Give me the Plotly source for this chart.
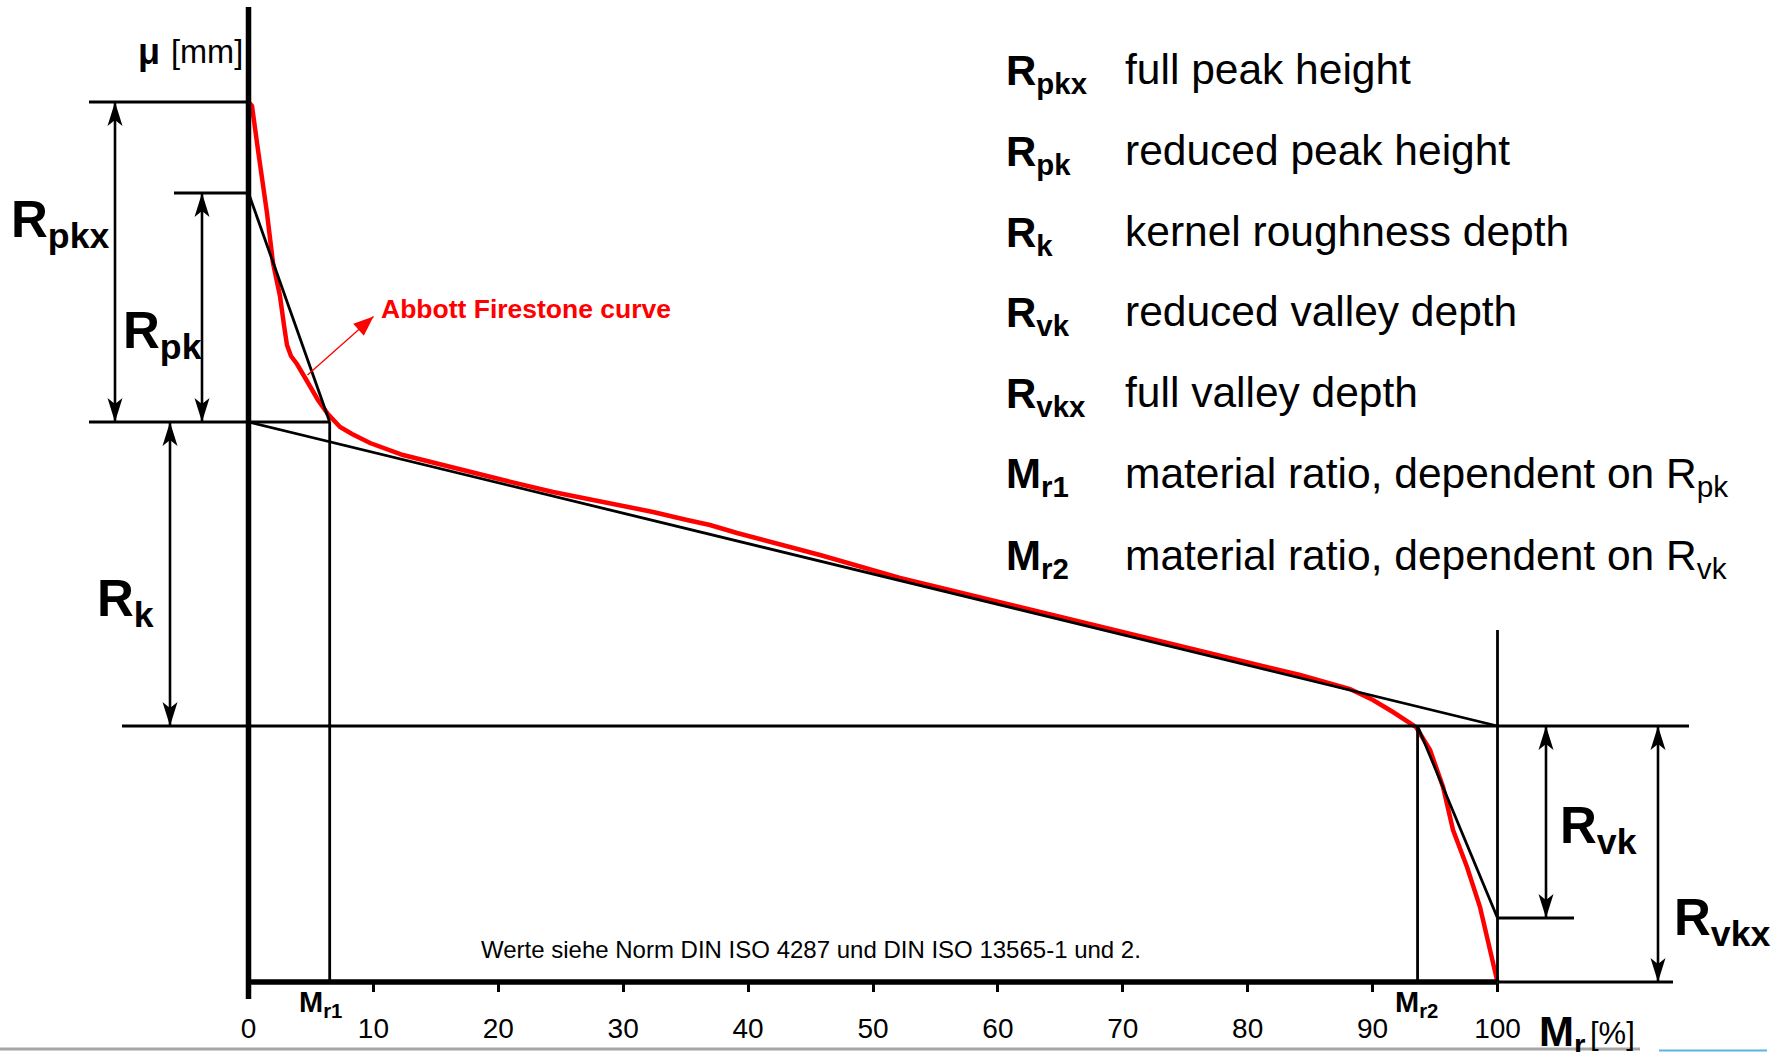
import math
import plotly.graph_objects as go

# ---------------- data ----------------
# Abbott-Firestone (material ratio) curve: material ratio Mr [%] vs. profile height
mr_pct = [0.0, 0.28, 0.76, 1.16, 1.48, 1.96, 2.52, 2.84, 3.08, 3.40, 3.88, 4.68, 5.56, 6.36,
          7.33, 8.29, 9.73, 12.37, 16.37, 20.38, 24.38, 28.38, 32.39, 35.11, 36.95, 39.11,
          41.75, 45.76, 52.16, 60.17, 68.17, 76.18, 84.19, 88.19, 90.03, 91.63, 92.76, 93.48,
          94.60, 95.64, 96.44, 97.56, 98.60, 99.24, 100.0]
profile_height = [88.0, 87.6, 83.2, 79.7, 76.9, 71.9, 68.6, 65.7, 63.7, 62.6, 61.8, 60.1, 58.2,
                  56.8, 55.5, 54.8, 53.9, 52.7, 51.4, 50.2, 49.0, 48.0, 47.0, 46.2, 45.7, 44.9,
                  44.0, 42.7, 40.4, 38.0, 35.5, 33.1, 30.7, 29.3, 28.2, 27.0, 26.0, 25.5, 23.2,
                  19.5, 15.2, 11.5, 7.5, 4.2, 0.0]

tick_values = [0, 10, 20, 30, 40, 50, 60, 70, 80, 90, 100]
tick_labels = ["0", "10", "20", "30", "40", "50", "60", "70", "80", "90", "100"]

# characteristic levels (heights) and material ratios
level_pkx = 88.0
level_pk = 78.9
level_k_top = 56.0
level_k_bot = 25.6
level_vk = 6.4
level_base = 0.0
mr1 = 6.5
mr2 = 93.6

legend_symbols = ["R<sub>pkx</sub>", "R<sub>pk</sub>", "R<sub>k</sub>", "R<sub>vk</sub>",
                  "R<sub>vkx</sub>", "M<sub>r1</sub>", "M<sub>r2</sub>"]
legend_texts = ["full peak height", "reduced peak height", "kernel roughness depth",
                "reduced valley depth", "full valley depth",
                "material ratio, dependent on R<sub>pk</sub>",
                "material ratio, dependent on R<sub>vk</sub>"]

# ---------------- layout geometry ----------------
W, H = 1786, 1052
X0_PX, PX_PER_X = 248.5, 12.49
Y0_PX, PX_PER_Y = 982.0, 10.0
FONT = "Liberation Sans, Arial, sans-serif"


def dx(px):
    return (px - X0_PX) / PX_PER_X


def dy(py):
    return (Y0_PX - py) / PX_PER_Y


def to_px(x, y):
    return X0_PX + x * PX_PER_X, Y0_PX - y * PX_PER_Y


x_range = [dx(0), dx(W)]
y_range = [dy(H), dy(0)]

fig = go.Figure()

# red Abbott-Firestone curve
fig.add_trace(go.Scatter(x=mr_pct, y=profile_height, mode="lines",
                         line=dict(color="#ff0000", width=4.5), hoverinfo="skip"))

# construction lines
segments = [
    (dx(89), level_pkx, 0, level_pkx),
    (dx(174), level_pk, 0, level_pk),
    (dx(89), level_k_top, mr1, level_k_top),
    (dx(122), level_k_bot, dx(1689), level_k_bot),
    (100, level_vk, dx(1574), level_vk),
    (100, level_base, dx(1673), level_base),
    (mr1, level_base, mr1, level_k_top),
    (mr2, level_base, mr2, level_k_bot),
    (100, level_base, 100, dy(630)),
    (0, level_pk, mr1, level_k_top),
    (0, level_k_top, 100, level_k_bot),
    (mr2, level_k_bot, 100, level_vk),
]
sx, sy = [], []
for x1, y1, x2, y2 in segments:
    sx += [x1, x2, None]
    sy += [y1, y2, None]
fig.add_trace(go.Scatter(x=sx, y=sy, mode="lines", line=dict(color="black", width=2.8),
                         hoverinfo="skip"))

# dimension arrows (shafts)
dims = [(dx(115), level_pkx, level_k_top), (dx(202), level_pk, level_k_top),
        (dx(170), level_k_top, level_k_bot), (dx(1546), level_k_bot, level_vk),
        (dx(1658), level_k_bot, level_base)]
ax_, ay_ = [], []
for x, ya, yb in dims:
    ax_ += [x, x, None]
    ay_ += [ya, yb, None]
fig.add_trace(go.Scatter(x=ax_, y=ay_, mode="lines", line=dict(color="black", width=2.6),
                         hoverinfo="skip"))

# thick axes
fig.add_trace(go.Scatter(x=[0, 0, None, 0, 100], y=[dy(999), dy(7), None, 0, 0], mode="lines",
                         line=dict(color="black", width=5.5), hoverinfo="skip"))

# red pointer line
ptr_tail = (dx(307.5), dy(375))
ptr_tip = (dx(373.5), dy(316.5))
fig.add_trace(go.Scatter(x=[ptr_tail[0], ptr_tip[0]], y=[ptr_tail[1], ptr_tip[1]], mode="lines",
                         line=dict(color="#ff0000", width=1.3), hoverinfo="skip"))


def head_path(tip, tail, length, half_w, notch):
    tx, ty = to_px(*tip)
    bx, by = to_px(*tail)
    vx, vy = tx - bx, ty - by
    n = math.hypot(vx, vy)
    ux, uy = vx / n, vy / n
    nx, ny = -uy, ux
    pts = [(tx, ty),
           (tx - length * ux + half_w * nx, ty - length * uy + half_w * ny),
           (tx - (length - notch) * ux, ty - (length - notch) * uy),
           (tx - length * ux - half_w * nx, ty - length * uy - half_w * ny)]
    d = []
    for i, (px, py) in enumerate(pts):
        d.append(("M" if i == 0 else "L") + f"{dx(px):.4f},{dy(py):.4f}")
    return " ".join(d) + " Z"


shapes = []
for x, ya, yb in dims:
    for tip, tail in (((x, ya), (x, yb)), ((x, yb), (x, ya))):
        shapes.append(dict(type="path", xref="x", yref="y",
                           path=head_path(tip, tail, 24, 7.5, 6),
                           fillcolor="black", line=dict(width=0)))
shapes.append(dict(type="path", xref="x", yref="y",
                   path=head_path(ptr_tip, ptr_tail, 20, 8, 0),
                   fillcolor="#ff0000", line=dict(width=0)))
# bottom page border remnants
shapes.append(dict(type="line", xref="paper", yref="paper", x0=0, x1=1640 / W,
                   y0=(H - 1049) / H, y1=(H - 1049) / H, line=dict(color="#a6a6a6", width=3)))
shapes.append(dict(type="line", xref="paper", yref="paper", x0=1659 / W, x1=1767 / W,
                   y0=(H - 1050.5) / H, y1=(H - 1050.5) / H, line=dict(color="#5bb3e6", width=2)))

annotations = []


def ann(text, x_px, y_px, size, color="black", xanchor="left"):
    annotations.append(dict(text=text, x=dx(x_px), y=dy(y_px), xref="x", yref="y",
                            xanchor=xanchor, yanchor="middle", showarrow=False,
                            font=dict(family=FONT, size=size, color=color)))


# big dimension labels
ann("<b>R<sub>pkx</sub></b>", 9, 223, 51)
ann("<b>R<sub>pk</sub></b>", 121, 334, 51)
ann("<b>R<sub>k</sub></b>", 95, 602, 51)
ann("<b>R<sub>vk</sub></b>", 1558, 829, 51)
ann("<b>R<sub>vkx</sub></b>", 1672, 921, 51)

# legend block
row_centers = [69, 150, 231, 311, 392, 472, 554]
for sym, txt, yc in zip(legend_symbols, legend_texts, row_centers):
    ann("<b>" + sym + "</b>", 1004, yc + 4, 42)
    ann(txt, 1123, yc + (4 if "<sub>" in txt else 0), 42.5)

# axis labels
ann("<b>μ</b>", 162, 51, 36, xanchor="right")
ann("[mm]", 169, 52, 32.5)
ann("<b>M<sub>r1</sub></b>", 297, 1004, 29)
ann("<b>M<sub>r2</sub></b>", 1393, 1004, 29)
ann("<b>M<sub>r</sub></b>", 1537, 1034, 42)
ann("[%]", 1588, 1033, 31)

# notes
ann("Werte siehe Norm DIN ISO 4287 und DIN ISO 13565-1 und 2.", 479, 949, 24)
ann("<b>Abbott Firestone curve</b>", 379, 309, 26.5, color="#ff0000")

fig.update_layout(
    width=W, height=H,
    margin=dict(l=0, r=0, t=0, b=0),
    paper_bgcolor="white", plot_bgcolor="white",
    showlegend=False,
    xaxis=dict(range=x_range, showgrid=False, zeroline=False, showline=False,
               tickmode="array", tickvals=tick_values, ticktext=tick_labels,
               ticks="outside", ticklen=9, tickwidth=2.5, tickcolor="black",
               tickfont=dict(family=FONT, size=28, color="black"),
               anchor="free", position=(H - Y0_PX) / H, ticklabelstandoff=12,
               fixedrange=True),
    yaxis=dict(range=y_range, visible=False, fixedrange=True),
    shapes=shapes,
    annotations=annotations,
)

fig.write_html("out.html", config={"displayModeBar": False},
               post_script="document.body.style.margin='0';document.body.style.overflow='hidden';")
